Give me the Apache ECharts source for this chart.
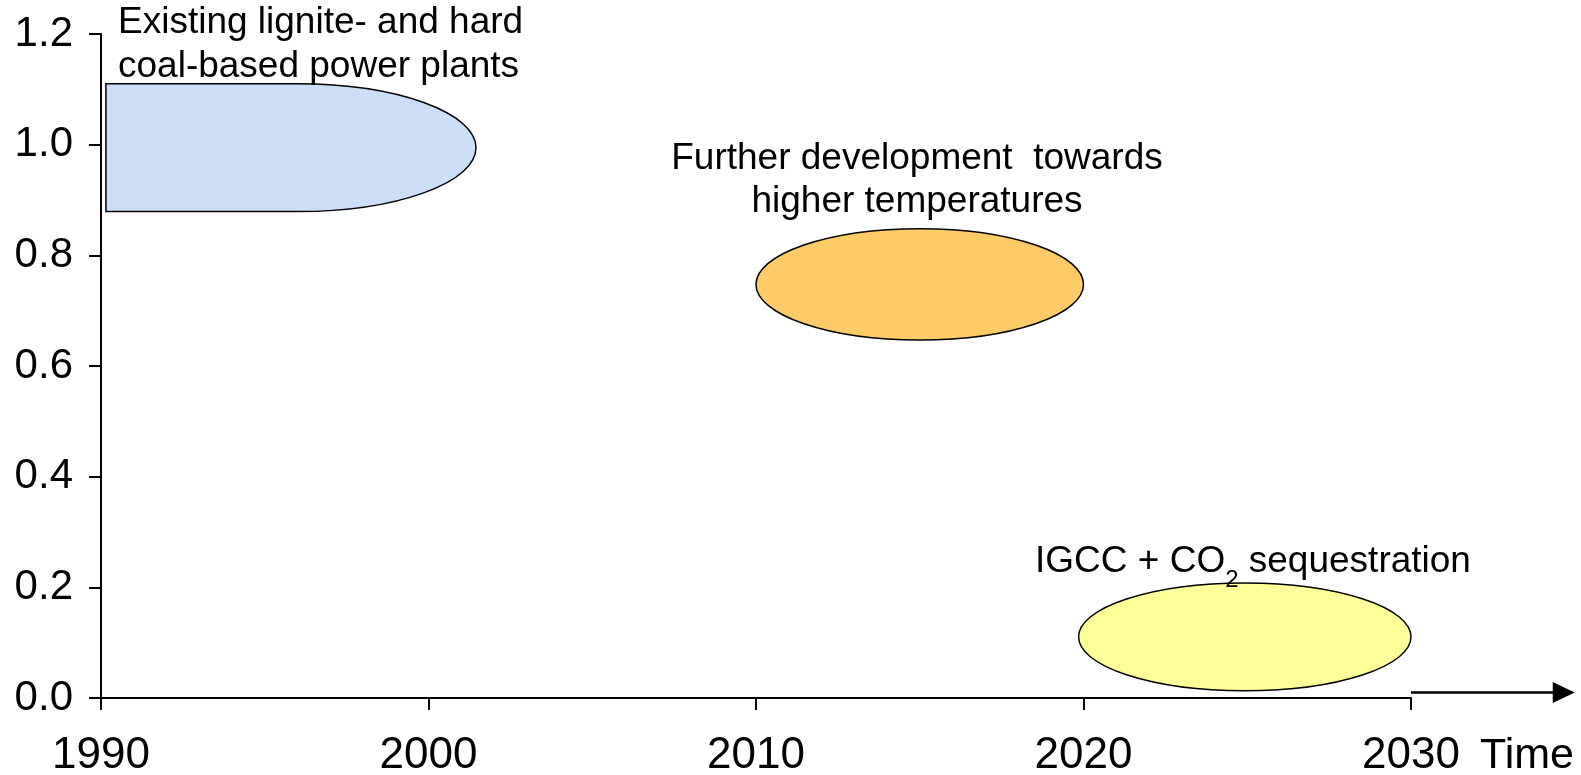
<!DOCTYPE html>
<html>
<head>
<meta charset="utf-8">
<script src="https://cdn.jsdelivr.net/npm/echarts@6/dist/echarts.min.js"></script>
<style>
  html, body { margin: 0; padding: 0; background: #fff; }
  #chart { width: 1581px; height: 775px; }
</style>
</head>
<body>
<div id="chart"></div>
<script>
// Technology development phases over time
const phaseNames = ['Existing coal plants', 'Higher temperatures', 'IGCC + CCS'];
const phaseStart = [1990.15, 2010.0, 2019.85];   // left edge (year)
const phaseFlatEnd = [1996.0, null, null];       // end of the flat-topped part (year)
const phaseEnd = [2001.45, 2020.0, 2030.0];      // right edge (year)
const phaseLow = [0.879, 0.647, 0.013];          // lower edge
const phaseHigh = [1.110, 0.848, 0.208];         // upper edge
const phaseColors = ['#cddff8', '#fecb66', '#ffff99'];

const yearTicks = [1990, 2000, 2010, 2020, 2030];
const valueTicks = [0.0, 0.2, 0.4, 0.6, 0.8, 1.0, 1.2];

// Time arrow continuing past the last year tick
const arrowStart = [2030, 0.01];
const arrowEnd = [2035, 0.01];

const FONT = '"Liberation Sans", Arial, sans-serif';

const phaseData = phaseNames.map((n, i) => ({
  name: n,
  value: [phaseStart[i], phaseEnd[i], phaseLow[i], phaseHigh[i], phaseFlatEnd[i] == null ? NaN : phaseFlatEnd[i]]
}));

function renderPhase(params, api) {
  const i = params.dataIndex;
  const x0 = api.coord([api.value(0), api.value(2)])[0];
  const x1 = api.coord([api.value(1), api.value(2)])[0];
  const yb = api.coord([api.value(0), api.value(2)])[1];
  const yt = api.coord([api.value(0), api.value(3)])[1];
  const flat = api.value(4);
  const ym = (yt + yb) / 2;
  const ry = (yb - yt) / 2;
  let d;
  if (!isNaN(flat)) {
    // rectangle with a half-ellipse cap on the right
    const xf = api.coord([flat, api.value(2)])[0];
    const rx = x1 - xf;
    d = `M ${x0} ${yt} L ${xf} ${yt} A ${rx} ${ry} 0 0 1 ${x1} ${ym} A ${rx} ${ry} 0 0 1 ${xf} ${yb} L ${x0} ${yb} Z`;
  } else {
    const rx = (x1 - x0) / 2;
    d = `M ${x0} ${ym} A ${rx} ${ry} 0 0 1 ${x1} ${ym} A ${rx} ${ry} 0 0 1 ${x0} ${ym} Z`;
  }
  return {
    type: 'path',
    shape: { pathData: d },
    style: { fill: phaseColors[i], stroke: '#000', lineWidth: 1.5 }
  };
}

function renderArrow(params, api) {
  const p0 = api.coord([api.value(0), api.value(1)]);
  const p1 = api.coord([api.value(2), api.value(3)]);
  const headLen = 22, headHalf = 10.5;
  return {
    type: 'group',
    children: [
      { type: 'line', shape: { x1: p0[0], y1: p0[1], x2: p1[0] - headLen + 1, y2: p1[1] },
        style: { stroke: '#000', lineWidth: 2.5 } },
      { type: 'polygon', shape: { points: [[p1[0], p1[1]], [p1[0] - headLen, p1[1] - headHalf], [p1[0] - headLen, p1[1] + headHalf]] },
        style: { fill: '#000' } }
    ]
  };
}

const chart = echarts.init(document.getElementById('chart'), null, { renderer: 'canvas' });

chart.setOption({
  animation: false,
  backgroundColor: '#fff',
  grid: { left: 101, right: 170, top: 34, bottom: 77, containLabel: false, outerBoundsMode: 'none' },
  xAxis: {
    type: 'value',
    min: yearTicks[0],
    max: yearTicks[yearTicks.length - 1],
    interval: 10,
    axisLine: { show: true, onZero: false, lineStyle: { color: '#000', width: 2 } },
    axisTick: { show: true, inside: false, length: 12, lineStyle: { color: '#000', width: 2 } },
    axisLabel: { show: true, margin: 36, color: '#000', fontSize: 44, fontFamily: FONT,
      formatter: v => yearTicks.includes(v) ? String(v) : '' },
    splitLine: { show: false }
  },
  yAxis: {
    type: 'value',
    min: valueTicks[0],
    max: valueTicks[valueTicks.length - 1],
    interval: 0.2,
    axisLine: { show: true, lineStyle: { color: '#000', width: 2 } },
    axisTick: { show: true, inside: false, length: 12, lineStyle: { color: '#000', width: 2 } },
    axisLabel: { show: true, margin: 28, color: '#000', fontSize: 42, fontFamily: FONT,
      formatter: v => v.toFixed(1) },
    splitLine: { show: false }
  },
  series: [
    {
      type: 'custom',
      name: 'phases',
      renderItem: renderPhase,
      clip: false,
      encode: { x: [0, 1, 4], y: [2, 3] },
      data: phaseData,
      z: 2
    },
    {
      type: 'custom',
      name: 'time arrow',
      renderItem: renderArrow,
      clip: false,
      encode: { x: [0, 2], y: [1, 3] },
      data: [[arrowStart[0], arrowStart[1], arrowEnd[0], arrowEnd[1]]],
      z: 3
    }
  ],
  graphic: {
    elements: [
      { type: 'text', x: 118, y: 1, z: 100,
        style: { text: 'Existing lignite- and hard\ncoal-based power plants', font: '37px ' + FONT, fill: '#000',
          lineHeight: 44, align: 'left', verticalAlign: 'top' } },
      { type: 'text', x: 917, y: 137, z: 100,
        style: { text: 'Further development  towards\nhigher temperatures', font: '37px ' + FONT, fill: '#000',
          lineHeight: 43, align: 'center', verticalAlign: 'top' } },
      { type: 'text', x: 1035, y: 540, z: 100,
        style: {
          text: '{a|IGCC + CO}{s|2}{a| sequestration}',
          verticalAlign: 'top',
          rich: {
            a: { fontSize: 37, fontFamily: FONT, color: '#000', lineHeight: 44 },
            s: { fontSize: 24, fontFamily: FONT, color: '#000', lineHeight: 24, padding: [37, 0, 0, 0] }
          }
        } },
      { type: 'text', x: 1480, y: 738, z: 100,
        style: { text: 'Time', fontSize: 43, fontFamily: FONT, fill: '#000',
          lineHeight: 36, align: 'left', verticalAlign: 'top' } }
    ]
  }
});
</script>
</body>
</html>
